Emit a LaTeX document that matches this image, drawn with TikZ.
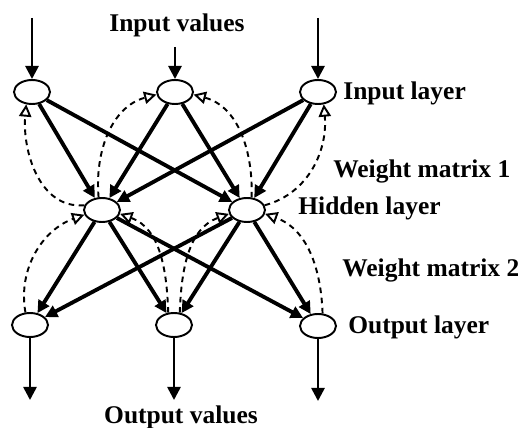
\documentclass[tikz,border=0pt]{standalone}
\usepackage{fontspec}
\setmainfont{Liberation Serif}
\usetikzlibrary{arrows.meta,shapes.geometric}
\tikzset{
  neurone/.style={draw, ellipse, line width=1.1pt, minimum width=0.72cm,
    minimum height=0.48cm, inner sep=0pt},
  fleche/.style={-{Triangle[length=7pt,width=7pt]}, line width=2.2pt},
  flux/.style={-{Triangle[length=7.5pt,width=7.5pt]}, line width=1.5pt},
  retour/.style={-{Triangle[open,length=7pt,width=7pt,fill=white]}, dashed,
    dash pattern=on 3.2pt off 2.6pt, line width=1.1pt},
  etiquette/.style={font=\fontsize{14.5}{16}\selectfont\bfseries, inner sep=0pt},
}

\begin{document}
\begin{tikzpicture}
        \useasboundingbox (0,0) rectangle (10.36,8.54);
        % neurones des trois couches
        \foreach \nom/\px/\py in {i1/0.64/6.70, i2/3.50/6.70, i3/6.36/6.70,
                                  h1/2.04/4.34, h2/4.94/4.34,
                                  o1/0.60/2.04, o2/3.48/2.04, o3/6.36/2.02} {
          \node[neurone] (\nom) at (\px,\py) {};
        }
        % entrées et sorties
        \foreach \k/\dy in {1/1.48, 2/0.90, 3/1.48} {
          \path (i\k) ++(0,\dy) coordinate (haut\k);
          \path (o\k) ++(0,-1.50) coordinate (bas\k);
          \draw[flux] (haut\k) -- (i\k);
          \draw[flux] (o\k) -- (bas\k);
        }
        % connexions directes
        \foreach \e in {i1,i2,i3} {
          \foreach \c in {h1,h2} {
            \draw[fleche] (\e) -- (\c);
          }
        }
        \foreach \c in {h1,h2} {
          \foreach \s in {o1,o2,o3} {
            \draw[fleche] (\c) -- (\s);
          }
        }
        % retours (matrice 1)
        \draw[retour] (h1.165) to[out=185, in=-95] (i1.245);
        \draw[retour] (h1.105) to[out=95, in=195] (i2.188);
        \draw[retour] (h2.70) to[out=88, in=-15] (i2.-8);
        \draw[retour] (h2.15) to[out=15, in=-85] (i3.295);
        % retours (matrice 2)
        \draw[retour] (o1.110) to[out=100, in=200] (h1.195);
        \draw[retour] (o2.115) to[out=92, in=-20] (h1.-12);
        \draw[retour] (o2.65) to[out=88, in=200] (h2.192);
        \draw[retour] (o3.70) to[out=92, in=-20] (h2.-12);
        % textes
        \node[etiquette] (titreE) at (3.54,8.04) {Input values};
        \node[etiquette] (titreS) at (3.62,0.20) {Output values};
        \node[etiquette, anchor=west] (cE) at (6.86,6.68) {Input layer};
        \node[etiquette, anchor=west] (m1) at (6.66,5.12) {Weight matrix 1};
        \node[etiquette, anchor=west] (cC) at (5.96,4.38) {Hidden layer};
        \node[etiquette, anchor=west] (m2) at (6.84,3.14) {Weight matrix 2};
        \node[etiquette, anchor=west] (cS) at (6.96,2.00) {Output layer};
      \end{tikzpicture}
\end{document}
